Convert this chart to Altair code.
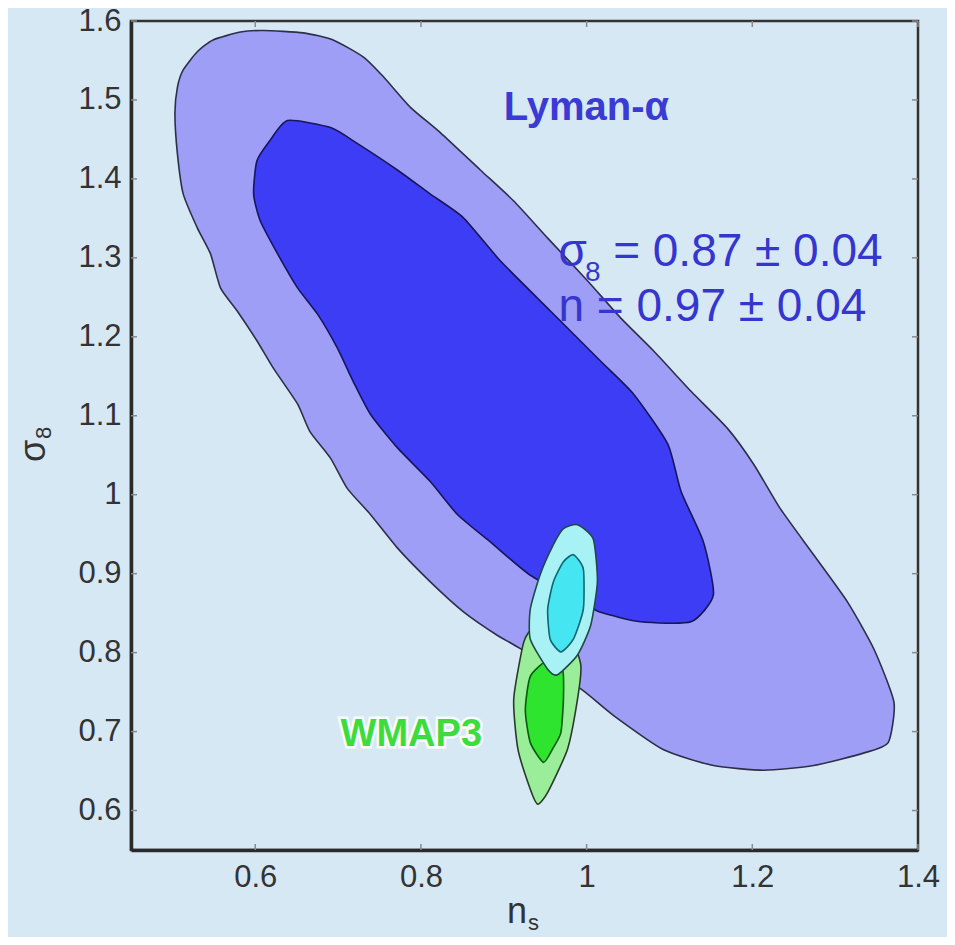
import altair as alt
import pandas as pd

# ---- axis ticks ----
x_ticks = [0.6, 0.8, 1.0, 1.2, 1.4]
y_ticks = [0.6, 0.7, 0.8, 0.9, 1.0, 1.1, 1.2, 1.3, 1.4, 1.5, 1.6]
x_domain = [0.45, 1.4]
y_domain = [0.55, 1.6]

# ---- Lyman-alpha 95% contour (n_s, sigma_8) ----
lya95_ns = [0.503, 0.506, 0.513, 0.530, 0.549, 0.582, 0.610, 0.658, 0.694, 0.731, 0.755, 0.787,
            0.824, 0.872, 0.912, 0.953, 1.001, 1.041, 1.081, 1.126, 1.170, 1.202, 1.234, 1.274,
            1.315, 1.347, 1.371, 1.364, 1.335, 1.274, 1.214, 1.153, 1.093, 1.033, 0.993, 0.920,
            0.892, 0.851, 0.811, 0.772, 0.739, 0.711, 0.691, 0.666, 0.651, 0.622, 0.602, 0.578,
            0.558, 0.546, 0.530, 0.513, 0.506]
lya95_s8 = [1.483, 1.516, 1.538, 1.561, 1.576, 1.586, 1.588, 1.585, 1.576, 1.554, 1.529, 1.491,
            1.458, 1.411, 1.372, 1.325, 1.271, 1.224, 1.182, 1.131, 1.084, 1.038, 0.982, 0.924,
            0.864, 0.804, 0.737, 0.686, 0.673, 0.657, 0.651, 0.657, 0.677, 0.720, 0.754, 0.805,
            0.822, 0.852, 0.890, 0.932, 0.975, 1.008, 1.046, 1.080, 1.115, 1.160, 1.195, 1.233,
            1.262, 1.305, 1.338, 1.381, 1.432]

# ---- Lyman-alpha 68% contour ----
lya68_ns = [0.639, 0.691, 0.723, 0.772, 0.811, 0.851, 0.896, 0.956, 1.017, 1.057, 1.098, 1.114,
            1.141, 1.153, 1.126, 1.065, 1.017, 0.993, 0.932, 0.884, 0.844, 0.811, 0.772, 0.739,
            0.718, 0.699, 0.675, 0.651, 0.627, 0.606, 0.598, 0.602, 0.618]
lya68_s8 = [1.474, 1.465, 1.445, 1.411, 1.381, 1.351, 1.296, 1.233, 1.169, 1.127, 1.064, 1.004,
            0.940, 0.873, 0.839, 0.839, 0.851, 0.864, 0.898, 0.940, 0.975, 1.017, 1.059, 1.102,
            1.144, 1.186, 1.229, 1.262, 1.305, 1.347, 1.381, 1.423, 1.449]

# ---- combined (cyan) contours ----
cyan95_ns = [0.989, 1.008, 1.013, 1.005, 0.989, 0.965, 0.953, 0.932, 0.932, 0.944, 0.960, 0.972]
cyan95_s8 = [0.962, 0.944, 0.890, 0.835, 0.797, 0.772, 0.779, 0.817, 0.855, 0.899, 0.937, 0.957]
cyan68_ns = [0.984, 0.996, 0.996, 0.984, 0.969, 0.956, 0.953, 0.960, 0.972]
cyan68_s8 = [0.924, 0.906, 0.855, 0.817, 0.801, 0.817, 0.855, 0.890, 0.915]

# ---- WMAP3 (green) contours ----
wmap95_ns = [0.924, 0.912, 0.917, 0.932, 0.941, 0.953, 0.977, 0.989, 0.993, 0.981, 0.956, 0.936]
wmap95_s8 = [0.813, 0.741, 0.678, 0.627, 0.608, 0.623, 0.678, 0.741, 0.784, 0.819, 0.836, 0.832]
wmap68_ns = [0.932, 0.926, 0.932, 0.948, 0.960, 0.969, 0.972, 0.971, 0.954]
wmap68_s8 = [0.770, 0.727, 0.686, 0.661, 0.680, 0.699, 0.741, 0.778, 0.791]

# ---- annotations ----
lya_label = ["Lyman-α"]
lya_label_pos = [0.900, 1.474]
wmap_label = ["WMAP3"]
wmap_label_pos = [0.703, 0.682]
res_main = ["σ", "= 0.87 ± 0.04", "n = 0.97 ± 0.04"]
res_main_ns = [0.966, 1.032, 0.966]
res_main_s8 = [1.290, 1.290, 1.220]
res_sub = ["8"]
res_sub_pos = [0.998, 1.271]

FONT = "Liberation Sans"
W, H = 787, 829

xscale = alt.Scale(domain=x_domain, nice=False, zero=False)
yscale = alt.Scale(domain=y_domain, nice=False, zero=False)
axis_common = dict(ticks=False, grid=False, title=None, format="~g",
                   labelFont=FONT, labelFontSize=31, labelColor="#333333",
                   labelFlush=False, labelOverlap=False,
                   domainColor="#2a2a2a", domainWidth=3.5)
xaxis = alt.Axis(values=x_ticks, labelPadding=12, **axis_common)
yaxis = alt.Axis(values=y_ticks, labelPadding=10, **axis_common)


def X(field):
    return alt.X(field, type="quantitative", scale=xscale, axis=xaxis)


def Y(field):
    return alt.Y(field, type="quantitative", scale=yscale, axis=yaxis)


def poly(ns, s8, fill, stroke, sw=1.6, interp="cardinal-closed"):
    df = pd.DataFrame({"ns": ns, "s8": s8, "i": list(range(len(ns)))})
    return alt.Chart(df).mark_line(
        interpolate=interp, tension=0.4, fill=fill, stroke=stroke, strokeWidth=sw
    ).encode(x=X("ns"), y=Y("s8"), order=alt.Order("i:Q"))


layers = [
    poly(lya95_ns, lya95_s8, "#9e9ef6", "#2e2e48"),
    poly(lya68_ns, lya68_s8, "#3d3df6", "#16165a"),
    poly(wmap95_ns, wmap95_s8, "#9aee9a", "#2a3a2a"),
    poly(wmap68_ns, wmap68_s8, "#2ee42e", "#0a5a10"),
    poly(cyan95_ns, cyan95_s8, "#a8f2f6", "#234848"),
    poly(cyan68_ns, cyan68_s8, "#45e6f2", "#0f6670"),
]

# inward ticks on all four sides
xt = pd.DataFrame({"t": x_ticks})
yt = pd.DataFrame({"t": y_ticks})
tick_style = dict(color="#8a8a8a", strokeWidth=1.5)
layers += [
    alt.Chart(xt).mark_rule(**tick_style).encode(x=X("t"), y=alt.value(H), y2=alt.value(H - 6)),
    alt.Chart(xt).mark_rule(**tick_style).encode(x=X("t"), y=alt.value(0), y2=alt.value(6)),
    alt.Chart(yt).mark_rule(**tick_style).encode(y=Y("t"), x=alt.value(0), x2=alt.value(6)),
    alt.Chart(yt).mark_rule(**tick_style).encode(y=Y("t"), x=alt.value(W), x2=alt.value(W - 6)),
]

# Lyman-alpha label
lya_df = pd.DataFrame({"ns": [lya_label_pos[0]], "s8": [lya_label_pos[1]], "t": lya_label})
layers.append(alt.Chart(lya_df).mark_text(
    align="left", baseline="alphabetic", font=FONT, fontSize=40, fontWeight="bold",
    color="#3a3ad4").encode(x=X("ns"), y=Y("s8"), text="t:N"))

# WMAP3 label with white halo
wm_df = pd.DataFrame({"ns": [wmap_label_pos[0]], "s8": [wmap_label_pos[1]], "t": wmap_label})
layers.append(alt.Chart(wm_df).mark_text(
    align="left", baseline="alphabetic", font=FONT, fontSize=38, fontWeight="bold",
    fill="#ffffff", stroke="#ffffff", strokeWidth=5, strokeOpacity=0.85).encode(
    x=X("ns"), y=Y("s8"), text="t:N"))
layers.append(alt.Chart(wm_df).mark_text(
    align="left", baseline="alphabetic", font=FONT, fontSize=38, fontWeight="bold",
    color="#3ddc3d").encode(x=X("ns"), y=Y("s8"), text="t:N"))

# result text
res_df = pd.DataFrame({"ns": res_main_ns, "s8": res_main_s8, "t": res_main})
layers.append(alt.Chart(res_df).mark_text(
    align="left", baseline="alphabetic", font=FONT, fontSize=46,
    color="#3535d0").encode(x=X("ns"), y=Y("s8"), text="t:N"))
sub_df = pd.DataFrame({"ns": [res_sub_pos[0]], "s8": [res_sub_pos[1]], "t": res_sub})
layers.append(alt.Chart(sub_df).mark_text(
    align="left", baseline="alphabetic", font=FONT, fontSize=28,
    color="#3535d0").encode(x=X("ns"), y=Y("s8"), text="t:N"))

# axis titles (with subscripts)
title_style = dict(font=FONT, color="#333333", baseline="alphabetic")
layers += [
    alt.Chart(pd.DataFrame({"t": ["n"]})).mark_text(align="center", fontSize=36, **title_style)
    .encode(x=alt.value(386), y=alt.value(902), text="t:N"),
    alt.Chart(pd.DataFrame({"t": ["s"]})).mark_text(align="left", fontSize=22, **title_style)
    .encode(x=alt.value(397), y=alt.value(909), text="t:N"),
    alt.Chart(pd.DataFrame({"t": ["σ"]})).mark_text(align="center", angle=270, fontSize=36, **title_style)
    .encode(x=alt.value(-86), y=alt.value(430), text="t:N"),
    alt.Chart(pd.DataFrame({"t": ["8"]})).mark_text(align="left", angle=270, fontSize=22, **title_style)
    .encode(x=alt.value(-80), y=alt.value(418), text="t:N"),
]

chart = alt.layer(*layers).properties(
    width=W, height=H,
    autosize=alt.AutoSizeParams(type="none"),
    padding={"left": 123, "top": 13, "right": 29, "bottom": 87},
    background="#d7e8f5",
).configure_view(stroke="#333333", strokeWidth=2.5)

chart.save("out.html", embed_options={"renderer": "svg", "actions": False})
